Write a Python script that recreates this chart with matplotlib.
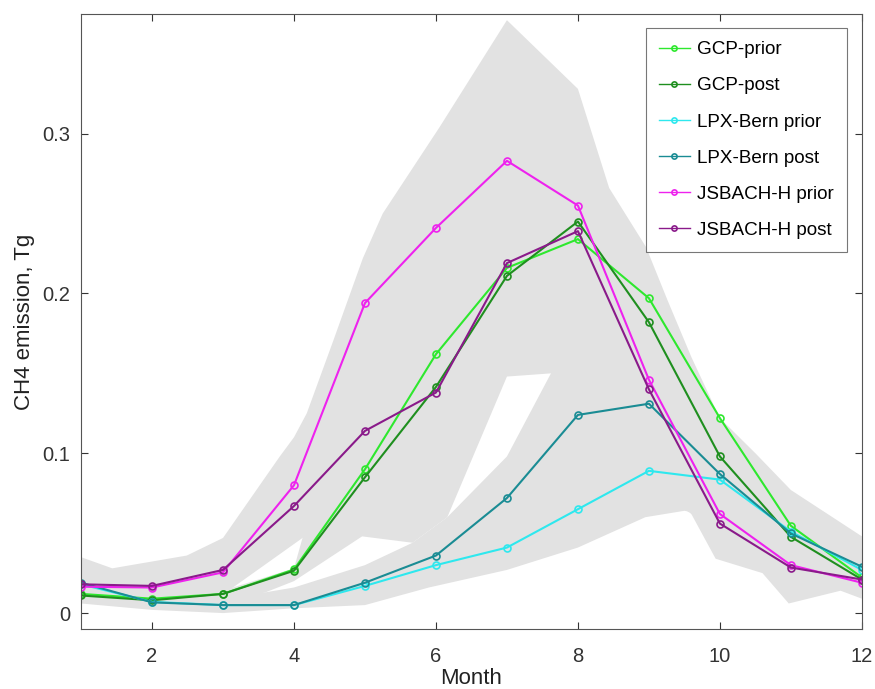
import numpy as np
import matplotlib
matplotlib.use("Agg")
import matplotlib.pyplot as plt

plt.rcParams['font.family'] = ['Liberation Sans', 'DejaVu Sans']

months = np.arange(1, 13)

gcp_prior = [0.012, 0.009, 0.012, 0.0273, 0.090, 0.162, 0.216, 0.234, 0.197, 0.122, 0.0546, 0.0223]
gcp_post = [0.011, 0.008, 0.012, 0.0265, 0.085, 0.1415, 0.211, 0.245, 0.182, 0.098, 0.0477, 0.021]
lpx_prior = [0.018, 0.007, 0.005, 0.005, 0.017, 0.030, 0.041, 0.065, 0.089, 0.0835, 0.051, 0.027]
lpx_post = [0.019, 0.0067, 0.005, 0.005, 0.019, 0.036, 0.072, 0.124, 0.131, 0.087, 0.0498, 0.029]
jsb_prior = [0.0165, 0.016, 0.0255, 0.080, 0.194, 0.241, 0.283, 0.255, 0.146, 0.062, 0.030, 0.019]
jsb_post = [0.018, 0.017, 0.027, 0.067, 0.114, 0.138, 0.219, 0.239, 0.140, 0.056, 0.0285, 0.021]

series = [
    ("GCP-prior", gcp_prior, "#2ee82e"),
    ("GCP-post", gcp_post, "#1f8f1f"),
    ("LPX-Bern prior", lpx_prior, "#2ee8ee"),
    ("LPX-Bern post", lpx_post, "#1a8c94"),
    ("JSBACH-H prior", jsb_prior, "#ee22ee"),
    ("JSBACH-H post", jsb_post, "#8a1a8a"),
]

jsb_up_x = [1, 1.44, 2.49, 3, 3.8, 4, 4.18, 4.55, 4.97, 5.25, 6.05, 7, 8, 8.44, 8.96, 9.26, 9.6, 10, 10.5, 11, 12]
jsb_up_y = [0.035, 0.028, 0.036, 0.047, 0.098, 0.11, 0.125, 0.17, 0.222, 0.25, 0.304, 0.371, 0.328, 0.266, 0.229, 0.196, 0.16, 0.122, 0.10, 0.077, 0.048]
jsb_lo_x = [1, 2, 3, 3.14, 4.12, 5, 6, 7, 7.62, 8, 9, 9.5, 9.94, 10.6, 10.97, 11.7, 12]
jsb_lo_y = [0.013, 0.012, 0.013, 0.016, 0.047, 0.07, 0.10, 0.16, 0.17, 0.17, 0.10, 0.07, 0.034, 0.025, 0.006, 0.014, 0.009]

gcp_up_x = [1, 2, 3, 3.14, 4, 4.12, 5, 6, 7, 8, 9, 10, 11, 12]
gcp_up_y = [0.02, 0.014, 0.015, 0.016, 0.028, 0.047, 0.10, 0.16, 0.20, 0.20, 0.15, 0.10, 0.05, 0.03]
gcp_lo_x = [1, 2, 3, 3.6, 4, 4.96, 5.67, 6.16, 7, 7.62, 8, 9, 10, 11, 12]
gcp_lo_y = [0.007, 0.004, 0.006, 0.013, 0.02, 0.048, 0.044, 0.06, 0.148, 0.15, 0.10, 0.08, 0.05, 0.025, 0.012]

lpx_up_x = [1, 2, 3, 3.6, 4, 5, 5.67, 6.16, 7, 7.62, 8, 9, 10, 11, 12]
lpx_up_y = [0.025, 0.012, 0.01, 0.013, 0.016, 0.03, 0.044, 0.06, 0.098, 0.15, 0.16, 0.17, 0.11, 0.06, 0.04]
lpx_lo_x = [1, 2, 3, 4, 5, 5.9, 7, 8, 8.95, 9.5, 10, 11, 12]
lpx_lo_y = [0.006, 0.002, 0.0, 0.003, 0.005, 0.016, 0.027, 0.041, 0.06, 0.064, 0.06, 0.035, 0.02]

bands = [
    (jsb_up_x, jsb_up_y, jsb_lo_x, jsb_lo_y),
    (gcp_up_x, gcp_up_y, gcp_lo_x, gcp_lo_y),
    (lpx_up_x, lpx_up_y, lpx_lo_x, lpx_lo_y),
]

fig = plt.figure(figsize=(8.75, 6.89), dpi=100)
ax = fig.add_axes([0.0926, 0.087, 0.8924, 0.893])

for ux, uy, lx, ly in bands:
    ax.fill(np.r_[ux, lx[::-1]], np.r_[uy, ly[::-1]], color="#e2e2e2", lw=0)

for name, vals, col in series:
    ax.plot(months, vals, "-o", color=col, lw=1.5, ms=5, mfc="none", mew=1.2, label=name)

ax.set_xlim(1, 12)
ax.set_ylim(-0.01, 0.375)
ax.set_xticks([2, 4, 6, 8, 10, 12])
ax.set_yticks([0, 0.1, 0.2, 0.3])
ax.set_yticklabels(["0", "0.1", "0.2", "0.3"])
ax.tick_params(direction="in", top=True, right=True, length=5, labelsize=14.5,
               colors="#333333")
ax.tick_params(axis="x", pad=13)
ax.tick_params(axis="y", pad=8)
for s in ax.spines.values():
    s.set_color("#555555")
ax.set_xlabel("Month", fontsize=16, color="#222222", labelpad=1)
ax.set_ylabel("CH4 emission, Tg", fontsize=16, color="#222222", labelpad=5)

leg = ax.legend(loc="upper right", fontsize=13.6, labelspacing=1.0, handlelength=1.6,
                handletextpad=0.4, markerscale=0.75, fancybox=False, borderpad=0.7,
                borderaxespad=0, bbox_to_anchor=(0.981, 0.977))
leg.get_frame().set_edgecolor("#555555")
leg.get_frame().set_linewidth(0.8)
for h in leg.get_lines():
    h.set_linewidth(1.0)

fig.savefig("out.png", dpi=100)
